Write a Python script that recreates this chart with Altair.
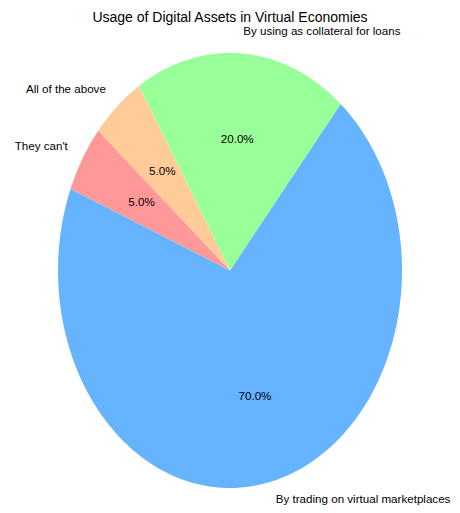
import altair as alt
import pandas as pd

# ---- data ----
labels = ["They can't", "By trading on virtual marketplaces",
          "By using as collateral for loans", "All of the above"]
values = [5, 70, 20, 5]
colors = ["#ff9999", "#66b3ff", "#99ff99", "#ffcc99"]
title = "Usage of Digital Assets in Virtual Economies"
start_angle = 140  # degrees, counter-clockwise from +x axis

# ---- layout ----
W, H = 444, 497
cx, cy = 222, 262.5          # pie centre inside the plot area (px)
rx, ry = 172.0, 217.5        # horizontal / vertical radius (px)
xdom = [-cx / rx, (W - cx) / rx]
ydom = [-(H - cy) / ry, cy / ry]

font = "Liberation Sans Narrow, Liberation Sans, Arial, sans-serif"
fs = 11.6

steps = list(range(-1, 121))
df = pd.DataFrame({"label": labels, "value": values, "order": list(range(len(labels)))})
df_pie = df.copy()
df_pie["step"] = [steps] * len(df_pie)

xs = alt.Scale(domain=xdom, nice=False, zero=False)
ys = alt.Scale(domain=ydom, nice=False, zero=False)
fills = alt.Scale(domain=labels, range=colors)


def base(data):
    return (alt.Chart(data)
            .transform_window(cum="sum(value)", sort=[alt.SortField("order")])
            .transform_joinaggregate(total="sum(value)")
            .transform_calculate(
                a0=f"{start_angle} + 360 * (datum.cum - datum.value) / datum.total",
                a1=f"{start_angle} + 360 * datum.cum / datum.total")
            .transform_calculate(mid="(datum.a0 + datum.a1) / 2"))


pie = (base(df_pie)
       .transform_flatten(["step"])
       .transform_calculate(
           ang=f"(datum.a0 + (datum.a1 - datum.a0) * datum.step / {steps[-1]}) * PI / 180")
       .transform_calculate(
           px="datum.step < 0 ? 0 : cos(datum.ang)",
           py="datum.step < 0 ? 0 : sin(datum.ang)")
       .mark_line(strokeWidth=0, interpolate="linear")
       .encode(
           x=alt.X("px:Q", scale=xs, axis=None),
           y=alt.Y("py:Q", scale=ys, axis=None),
           fill=alt.Fill("label:N", scale=fills, legend=None),
           detail="label:N",
           order=alt.Order("step:Q")))

lab = base(df).transform_calculate(
    lx="1.1 * cos(datum.mid * PI / 180)",
    ly="1.1 * sin(datum.mid * PI / 180)",
    tx="0.6 * cos(datum.mid * PI / 180)",
    ty="0.6 * sin(datum.mid * PI / 180)",
    pct="format(datum.value / datum.total, '.1%')")

enc = dict(x=alt.X("lx:Q", scale=xs, axis=None), y=alt.Y("ly:Q", scale=ys, axis=None),
           text="label:N")
lab_right_top = lab.transform_filter("datum.lx >= 0 && datum.ly >= 0").mark_text(
    align="left", baseline="middle", font=font, fontSize=fs, color="#000").encode(**enc)
lab_right_bot = lab.transform_filter("datum.lx >= 0 && datum.ly < 0").mark_text(
    align="left", baseline="middle", font=font, fontSize=fs, color="#000", dy=-3).encode(**enc)
lab_left = lab.transform_filter("datum.lx < 0").mark_text(
    align="right", baseline="middle", font=font, fontSize=fs, color="#000").encode(**enc)
pcts = lab.mark_text(
    align="center", baseline="middle", font=font, fontSize=fs, color="#000").encode(
    x=alt.X("tx:Q", scale=xs, axis=None), y=alt.Y("ty:Q", scale=ys, axis=None), text="pct:N")

ttl = alt.Chart(pd.DataFrame({"t": [title]})).mark_text(
    align="center", baseline="middle", font=font, fontSize=14, color="#000").encode(
    text="t:N", x=alt.value(cx), y=alt.value(10))

chart = (alt.layer(pie, lab_right_top, lab_right_bot, lab_left, pcts, ttl)
         .properties(width=W, height=H, padding=0,
                     autosize=alt.AutoSizeParams(type="none"))
         .configure_view(stroke="transparent"))

chart.save("out.html", embed_options={"renderer": "svg", "actions": False})
